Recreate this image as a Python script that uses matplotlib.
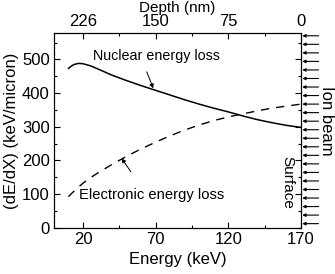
import matplotlib
matplotlib.use("Agg")
import matplotlib.pyplot as plt
import numpy as np

plt.rcParams['font.family'] = ['Liberation Sans', 'DejaVu Sans']
plt.rcParams['font.size'] = 12

# data
energy = [10, 12, 14, 17, 20, 25, 30, 40, 50, 60, 70, 80, 90, 100, 110, 120, 130, 140, 150, 160, 170]
nuclear = [473, 480, 485, 488, 487, 481, 472, 453, 437, 422, 408, 394, 380, 367, 355, 344, 332, 321, 312, 304, 298]
electronic = [92, 101, 109, 121, 132, 148, 162, 188, 212, 234, 254, 273, 290, 305, 318, 329, 338, 347, 355, 361, 367]
depth_pos = [20, 70, 120, 170]
depth_labels = ["226", "150", "75", "0"]

fig = plt.figure(figsize=(3.35, 2.74), dpi=100)
ax = fig.add_axes([0.161, 0.169, 0.737, 0.709])

ax.plot(energy, nuclear, color="black", lw=1.1)
ax.plot(energy, electronic, color="black", lw=1.0, dashes=(6, 5))

ax.set_xlim(0, 170)
ax.set_ylim(0, 577)
ax.set_xticks([20, 70, 120, 170])
ax.set_xticks([45, 95, 145], minor=True)
ax.set_yticks(range(0, 501, 100))
ax.set_yticks(range(50, 551, 100), minor=True)
ax.tick_params(which="both", direction="in", right=True)
ax.tick_params(which="major", length=4, width=0.8, pad=3)
ax.tick_params(which="minor", length=2.5, width=0.8)
ax.set_xlabel("Energy (keV)", labelpad=4)
ax.set_ylabel("(dE/dX) (keV/micron)", labelpad=2)

top = ax.twiny()
top.set_xlim(ax.get_xlim())
top.set_xticks(depth_pos)
top.set_xticklabels(depth_labels)
top.set_xticks([45, 95, 145], minor=True)
top.tick_params(which="both", direction="in")
top.tick_params(which="major", length=4, width=0.8, pad=3)
top.tick_params(which="minor", length=2.5, width=0.8)
top.set_xlabel("Depth (nm)", labelpad=1.5, fontsize=11)

ax.text(27, 510, "Nuclear energy loss", va="center", ha="left", fontsize=10.3)
ax.annotate("", xy=(68.4, 414), xytext=(63.9, 463),
            arrowprops=dict(arrowstyle="-|>", color="black", lw=0.7,
                            mutation_scale=6, shrinkA=0, shrinkB=0))

ax.text(17.3, 97, "Electronic energy loss", va="center", ha="left", fontsize=10.6)
ax.annotate("", xy=(46.6, 206), xytext=(53, 166),
            arrowprops=dict(arrowstyle="-|>", color="black", lw=0.7,
                            mutation_scale=6, shrinkA=0, shrinkB=0))

# ion beam arrows on the right
for yv in np.linspace(12, 570, 23):
    ax.annotate("", xy=(1.006, yv), xytext=(1.072, yv),
                xycoords=("axes fraction", "data"),
                textcoords=("axes fraction", "data"),
                annotation_clip=False,
                arrowprops=dict(arrowstyle="-|>", color="black", lw=0.8,
                                mutation_scale=4.5, shrinkA=0, shrinkB=0))

ax.text(0.947, 0.235, "Surface", transform=ax.transAxes, rotation=-90,
        ha="center", va="center", fontsize=11)
fig.text(0.976, 0.558, "Ion beam", rotation=-90, ha="center", va="center")

fig.savefig("out.png", dpi=100)
